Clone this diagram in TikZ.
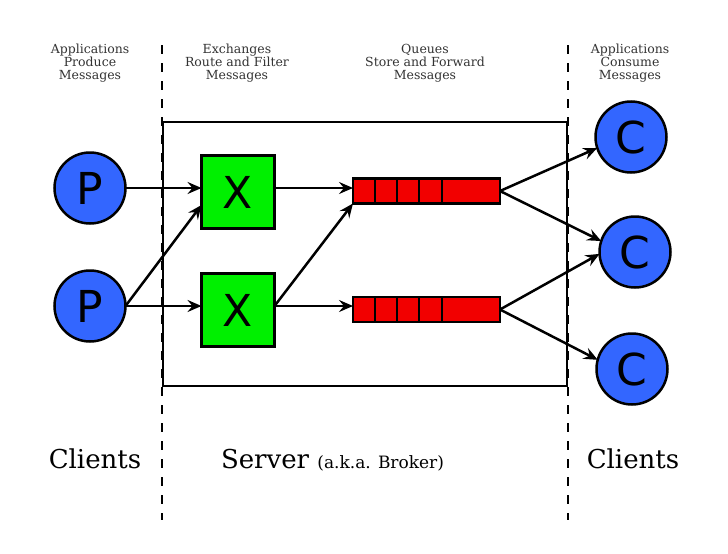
\documentclass[tikz,border=0pt]{standalone}
\usepackage{fontspec}
\setmainfont{DejaVu Serif}
\newfontfamily\lettfont{DejaVu Sans}
\usetikzlibrary{arrows.meta}
\definecolor{pblue}{HTML}{3366FF}
\definecolor{xgreen}{HTML}{00F000}
\definecolor{qred}{HTML}{F20000}
\begin{document}
\begin{tikzpicture}[x=1pt,y=-1pt,
  every node/.style={inner sep=0pt,outer sep=0pt},
  client/.style={circle,draw=black,line width=2.5pt,fill=pblue,minimum size=71pt,font=\lettfont\fontsize{44}{44}\selectfont},
  exch/.style={rectangle,draw=black,line width=2.5pt,fill=xgreen,minimum width=73pt,minimum height=73pt,font=\lettfont\fontsize{44}{44}\selectfont},
  qbox/.style={rectangle,draw=black,line width=2.5pt,fill=qred,minimum width=147pt,minimum height=25pt},
  conn/.style={line width=2.5pt,-{Stealth[length=14pt,width=12pt,inset=5pt]}},
  toplabel/.style={align=center,font=\fontsize{12.5}{13}\selectfont,text=black!80},
  botlabel/.style={font=\fontsize{26}{30}\selectfont,anchor=base},
  sep/.style={line width=1.5pt,dash pattern=on 9pt off 9pt}]
\useasboundingbox (0,0) rectangle (728,554);
% separators
\coordinate (s1a) at (162,45); \coordinate (s1b) at (162,520);
\coordinate (s2a) at (568,45); \coordinate (s2b) at (568,520);
\draw[sep] (s1a) -- (s1b);
\draw[sep] (s2a) -- (s2b);
% server box
\node[draw=black,line width=2.5pt,minimum width=404pt,minimum height=264pt] (server) at (365,254) {};
% top labels
\node[toplabel] (l1) at (90,63.5) {Applications\\Produce\\Messages};
\node[toplabel] (l2) at (237,63.5) {Exchanges\\Route and Filter\\Messages};
\node[toplabel] (l3) at (425,63.5) {Queues\\Store and Forward\\Messages};
\node[toplabel] (l4) at (630,63.5) {Applications\\Consume\\Messages};
% bottom labels
\node[botlabel] (b1) at (95,468) {Clients};
\node[botlabel,anchor=base west] (b2) at (221,468) {Server \fontsize{17}{20}\selectfont(a.k.a. Broker)};
\node[botlabel] (b3) at (633,468) {Clients};
% producers
\node[client] (p1) at (90,188) {P};
\node[client] (p2) at (90,306) {P};
% exchanges
\node[exch] (x1) at (238,192) {X};
\node[exch] (x2) at (238,310) {X};
% queues
\node[qbox] (q1) at (426.5,191) {};
\node[qbox] (q2) at (426.5,309.5) {};
\foreach \q in {q1,q2}{
  \foreach \dx in {22,44,66,89}{
    \draw[line width=2.5pt] ([xshift=\dx pt]\q.north west) -- ([xshift=\dx pt]\q.south west);
  }
}
% consumers
\node[client] (c1) at (631,137) {C};
\node[client] (c2) at (635,252) {C};
\node[client] (c3) at (632,369) {C};
% connectors
\draw[conn] (p1.east) -- (x1.west |- p1.east);
\draw[conn] (p2.east) -- (x2.west |- p2.east);
\draw[conn] (p2.east) -- ([yshift=-13pt]x1.west);
\draw[conn] (x1.east |- p1.east) -- (q1.west |- p1.east);
\draw[conn] (x2.east |- p2.east) -- (q1.south west);
\draw[conn] (x2.east |- p2.east) -- (q2.west |- p2.east);
\draw[conn] (q1.east) -- (c1.198);
\draw[conn] (q1.east) -- (c2.162);
\draw[conn] (q2.east) -- (c2.183);
\draw[conn] (q2.east) -- (c3.165);
\end{tikzpicture}
\end{document}
